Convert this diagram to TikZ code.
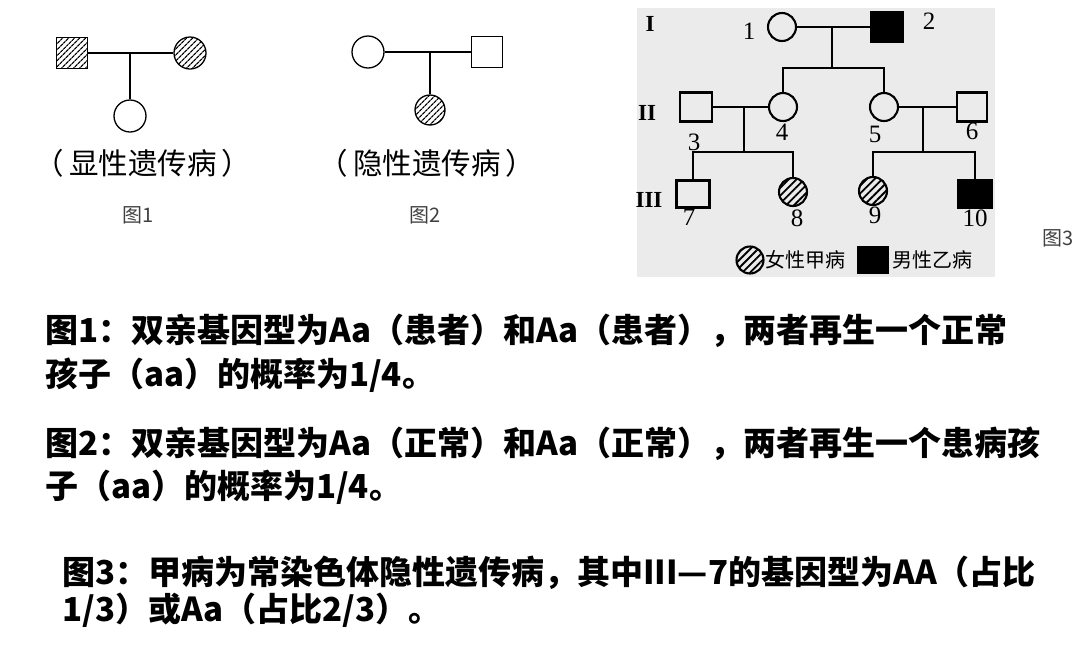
\documentclass[tikz,border=0pt]{standalone}
\usepackage{fontspec}
\setmainfont{Noto Sans CJK SC}
\newfontfamily\numfont{Liberation Serif}
\usetikzlibrary{patterns.meta}
\begin{document}
\begin{tikzpicture}[x=1pt,y=-1pt,
  male/.style={rectangle,draw,minimum size=31pt,inner sep=0pt},
  female/.style={circle,draw,minimum size=32pt,inner sep=0pt},
  hatch/.style={pattern={Lines[angle=45,distance=4pt,line width=1.3pt]}},
  hatchwide/.style={pattern={Lines[angle=45,distance=5.5pt,line width=1.8pt]}},
  affected/.style={fill=black},
  thin ped/.style={line width=1.3pt},
  thick ped/.style={line width=2.1pt},
  captext/.style={font=\fontsize{29.5}{31}\selectfont},
  figlabel/.style={font=\fontsize{20}{22}\selectfont,text=black!75},
  numlabel/.style={font=\numfont\fontsize{25}{27}\selectfont},
  genlabel/.style={font=\numfont\bfseries\fontsize{23}{25}\selectfont},
  para/.style={font=\bfseries\fontsize{33}{36}\selectfont,anchor=west,inner sep=0pt},
  legendtext/.style={font=\fontsize{20}{22}\selectfont,anchor=west,inner sep=0pt}]
\useasboundingbox (0,0) rectangle (1080,657);
% ---------- Figure 1 ----------
\begin{scope}[thin ped]
\node[male,hatch] (a1) at (72,53) {};
\node[female,hatch] (a2) at (190,53) {};
\draw (a1) -- (a2);
\coordinate (aj) at (130,53);
\node[female] (a3) at (130,116) {};
\draw (aj) -- (a3);
\end{scope}
\node[captext] (acap) at (143,163) {（\,显性遗传病\,）};
\node[figlabel] (afig) at (138,215) {图1};
% ---------- Figure 2 ----------
\begin{scope}[thin ped]
\node[female] (b1) at (368,52) {};
\node[male] (b2) at (487,52) {};
\draw (b1) -- (b2);
\coordinate (bj) at (430,52);
\node[female,hatch,minimum size=30pt] (b3) at (430,110) {};
\draw (bj) -- (b3);
\end{scope}
\node[captext] (bcap) at (427,163) {（\,隐性遗传病\,）};
\node[figlabel] (bfig) at (425,215) {图2};
% ---------- Figure 3 ----------
\fill[black!8] (637,8) rectangle (995,277);
\begin{scope}[thick ped]
\node[female,minimum size=28pt] (p1) at (782,27) {};
\node[male,affected,minimum width=32pt,minimum height=29pt] (p2) at (887,27) {};
\draw (p1) -- (p2);
\coordinate (j1) at (832,27);
\coordinate (s1) at (832,68);
\draw (j1) -- (s1);
\node[female,minimum size=28pt] (p4) at (783,107) {};
\node[female,minimum size=28pt] (p5) at (884,107) {};
\draw (s1) -| (p4);
\draw (s1) -| (p5);
\node[male,minimum width=32pt,minimum height=29pt] (p3) at (696,107) {};
\node[male,minimum width=30pt,minimum height=29pt] (p6) at (972,107) {};
\draw (p3) -- (p4);
\draw (p5) -- (p6);
\coordinate (j2) at (744,107);
\coordinate (s2) at (744,152);
\coordinate (j3) at (923,107);
\coordinate (s3) at (923,152);
\draw (j2) -- (s2);
\draw (j3) -- (s3);
\node[male,minimum width=33pt,minimum height=27pt] (p7) at (693,194) {};
\node[female,hatchwide,minimum size=28pt] (p8) at (793,192) {};
\node[female,hatchwide,minimum size=28pt] (p9) at (873,191) {};
\node[male,affected,minimum width=33pt,minimum height=27pt] (p10) at (975,194) {};
\draw (s2) -| (p7);
\draw (s2) -| (p8);
\draw (s3) -| (p9);
\draw (s3) -| (p10);
% legend
\node[female,hatchwide,minimum size=27pt] (lg1) at (750,260) {};
\node[male,affected,minimum width=30pt,minimum height=26pt] (lg2) at (873,260) {};
\end{scope}
\node[legendtext] (lt1) at (765,260) {女性甲病};
\node[legendtext] (lt2) at (892,260) {男性乙病};
\node[genlabel] (g1) at (650,24) {I};
\node[genlabel] (g2) at (647,113) {II};
\node[genlabel] (g3) at (649,200) {III};
\node[numlabel] (n1) at (749,31) {1};
\node[numlabel] (n2) at (929,21) {2};
\node[numlabel] (n3) at (694,142) {3};
\node[numlabel] (n4) at (782,132) {4};
\node[numlabel] (n5) at (875,134) {5};
\node[numlabel] (n6) at (972,131) {6};
\node[numlabel] (n7) at (689,217) {7};
\node[numlabel] (n8) at (797,218) {8};
\node[numlabel] (n9) at (875,215) {9};
\node[numlabel] (n10) at (975,218) {10};
\node[figlabel] (cfig) at (1058,238) {图3};
% ---------- Text ----------
\node[para] (t1) at (45,331) {图1：双亲基因型为Aa（患者）和Aa（患者），两者再生一个正常};
\node[para] (t2) at (45,375) {孩子（aa）的概率为1/4。};
\node[para] (t3) at (45,444) {图2：双亲基因型为Aa（正常）和Aa（正常），两者再生一个患病孩};
\node[para] (t4) at (45,487) {子（aa）的概率为1/4。};
\node[para] (t5) at (62,573) {图3：甲病为常染色体隐性遗传病，其中III—7的基因型为AA（占比};
\node[para] (t6) at (62,610) {1/3）或Aa（占比2/3）。};
\end{tikzpicture}
\end{document}
